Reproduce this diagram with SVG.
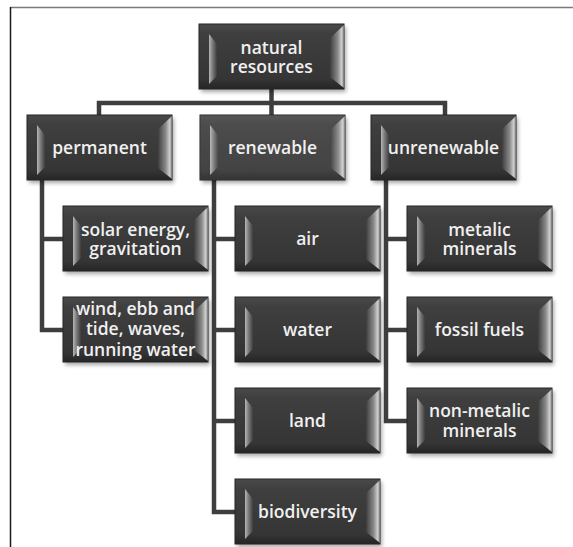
<svg xmlns="http://www.w3.org/2000/svg" xmlns:xlink="http://www.w3.org/1999/xlink" width="573" height="547" viewBox="0 0 573 547">
<style>
  .lbl { font-family: "Open Sans", "Liberation Sans", sans-serif; font-size: 17.5px; font-weight: 600; fill: #f0f0f0; text-anchor: middle; }
  .conn { fill: none; stroke: #3e3e3e; stroke-width: 4.5; stroke-linejoin: miter; stroke-linecap: butt; }
  .frame-top { stroke: #7a7a7a; stroke-width: 1.5; }
  .frame-left { stroke: #1a1a1a; stroke-width: 1.5; }
</style>
<defs>
  <linearGradient id="body" x1="0" y1="0" x2="0" y2="1">
    <stop offset="0" stop-color="#4a4a4a"/>
    <stop offset="0.15" stop-color="#3f3f3f"/>
    <stop offset="0.85" stop-color="#353535"/>
    <stop offset="1" stop-color="#252525"/>
  </linearGradient>
  <linearGradient id="lbev" x1="0" y1="0" x2="1" y2="0">
    <stop offset="0" stop-color="#b5b5b5"/>
    <stop offset="0.45" stop-color="#7a7a7a"/>
    <stop offset="1" stop-color="#3d3d3d"/>
  </linearGradient>
  <linearGradient id="rbev" x1="0" y1="0" x2="1" y2="0">
    <stop offset="0" stop-color="#3d3d3d"/>
    <stop offset="0.55" stop-color="#8a8a8a"/>
    <stop offset="0.85" stop-color="#d2d2d2"/>
    <stop offset="1" stop-color="#6a6a6a"/>
  </linearGradient>
  <filter id="sh" x="-10%" y="-15%" width="130%" height="150%">
    <feGaussianBlur stdDeviation="2"/>
  </filter>
  <g id="box">
    <rect x="2" y="3" width="145" height="65" fill="#000" opacity="0.35" filter="url(#sh)"/>
    <rect x="0" y="0" width="145" height="65" fill="url(#body)" stroke="#262626" stroke-width="1"/>
    <polygon points="10,10 18,20 18,52 10,60" fill="url(#lbev)"/>
    <polygon points="145,1 131,14 131,53 145,64" fill="url(#rbev)"/>
  </g>
</defs>

<rect x="0" y="0" width="573" height="547" fill="#ffffff"/>
<line class="frame-top" x1="10" y1="7.5" x2="573" y2="7.5"/>
<line class="frame-left" x1="10.5" y1="7" x2="10.5" y2="547"/>

<g id="connectors">
  <path class="conn" d="M271.5 89 V115 M99 115 V103 H445 V115"/>
  <path class="conn" d="M42 180 V330 H63 M42 239 H63"/>
  <path class="conn" d="M214 180 V512 H235 M214 239 H235 M214 330 H235 M214 421 H235"/>
  <path class="conn" d="M386 180 V421 H407 M386 239 H407 M386 330 H407"/>
</g>

<g id="natural-resources" transform="translate(199,24)">
  <use xlink:href="#box"/>
  <text class="lbl"><tspan x="72.5" y="30">natural</tspan><tspan x="72.5" y="49">resources</tspan></text>
</g>

<g id="permanent" transform="translate(27,115)">
  <use xlink:href="#box"/>
  <text class="lbl" x="72.5" y="39">permanent</text>
</g>
<g id="renewable" transform="translate(200,115)">
  <use xlink:href="#box"/>
  <rect x="0" y="0" width="145" height="65" fill="#ffffff" opacity="0.07"/>
  <text class="lbl" x="72.5" y="39">renewable</text>
</g>
<g id="unrenewable" transform="translate(371,115)">
  <use xlink:href="#box"/>
  <text class="lbl" x="72.5" y="39">unrenewable</text>
</g>

<g id="solar-energy" transform="translate(63,206)">
  <use xlink:href="#box"/>
  <text class="lbl"><tspan x="72.5" y="29.5">solar energy,</tspan><tspan x="72.5" y="48.5">gravitation</tspan></text>
</g>
<g id="wind" transform="translate(63,297)">
  <use xlink:href="#box"/>
  <text class="lbl"><tspan x="72.5" y="17.5">wind, ebb and</tspan><tspan x="72.5" y="38">tide, waves,</tspan><tspan x="72.5" y="58.5">running water</tspan></text>
</g>

<g id="air" transform="translate(235,206)">
  <use xlink:href="#box"/>
  <text class="lbl" x="72.5" y="39">air</text>
</g>
<g id="water" transform="translate(235,297)">
  <use xlink:href="#box"/>
  <text class="lbl" x="72.5" y="39">water</text>
</g>
<g id="land" transform="translate(235,388)">
  <use xlink:href="#box"/>
  <text class="lbl" x="72.5" y="39">land</text>
</g>
<g id="biodiversity" transform="translate(235,479)">
  <use xlink:href="#box"/>
  <text class="lbl" x="72.5" y="39">biodiversity</text>
</g>

<g id="metalic-minerals" transform="translate(407,206)">
  <use xlink:href="#box"/>
  <text class="lbl"><tspan x="72.5" y="29.5">metalic</tspan><tspan x="72.5" y="48.5">minerals</tspan></text>
</g>
<g id="fossil-fuels" transform="translate(407,297)">
  <use xlink:href="#box"/>
  <text class="lbl" x="72.5" y="39">fossil fuels</text>
</g>
<g id="non-metalic-minerals" transform="translate(407,388)">
  <use xlink:href="#box"/>
  <text class="lbl"><tspan x="72.5" y="29">non-metalic</tspan><tspan x="72.5" y="48.5">minerals</tspan></text>
</g>
</svg>
